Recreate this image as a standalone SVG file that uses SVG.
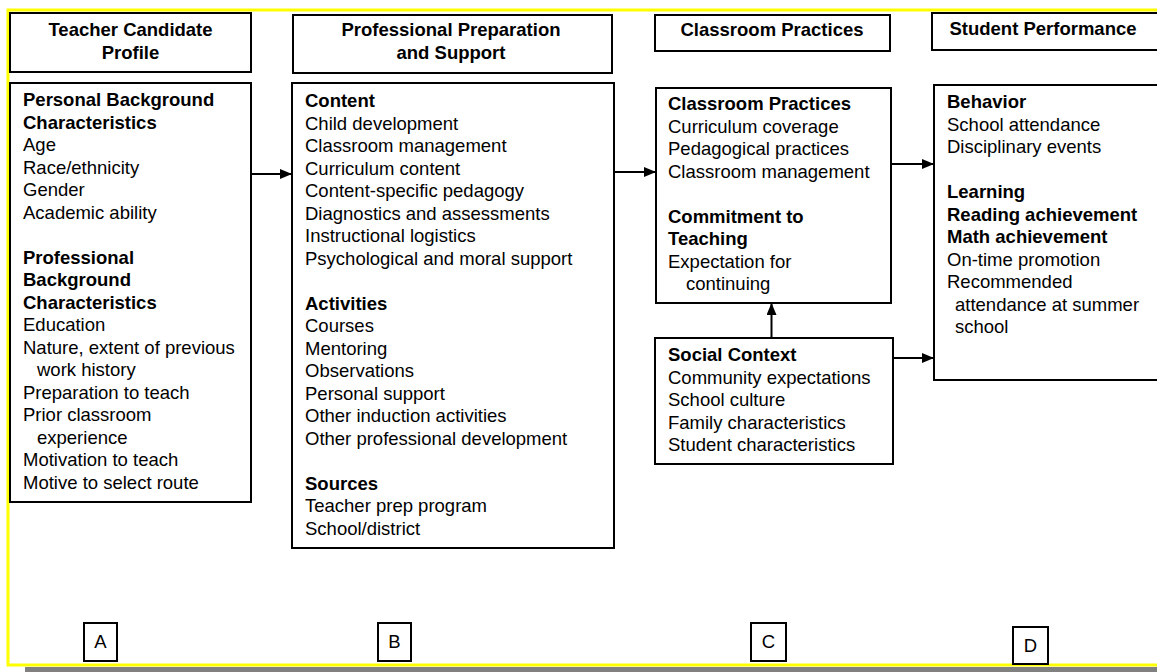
<svg xmlns="http://www.w3.org/2000/svg" width="1157" height="672" viewBox="0 0 1157 672">
  <style>
    .box { fill: #ffffff; stroke: #000000; stroke-width: 2; }
    .t { font-family: "Liberation Sans", Arial, sans-serif; font-size: 18.5px; fill: #000000; }
    .b { font-weight: bold; }
    .hd { font-family: "Liberation Sans", Arial, sans-serif; font-size: 18.5px; font-weight: bold; fill: #000000; text-anchor: middle; }
    .lbl { font-family: "Liberation Sans", Arial, sans-serif; font-size: 18.5px; fill: #000000; text-anchor: middle; }
    .conn { stroke: #000000; stroke-width: 2; fill: none; marker-end: url(#arrow); }
  </style>
  <defs>
    <marker id="arrow" markerUnits="userSpaceOnUse" markerWidth="12" markerHeight="10" refX="12" refY="5" orient="auto">
      <path d="M0,0 L12,5 L0,10 z" fill="#000000"/>
    </marker>
  </defs>

  <rect x="0" y="0" width="1157" height="672" fill="#ffffff"/>
  <!-- page frame -->
  <rect x="25" y="667" width="1132" height="5" fill="#808080"/>
  <path d="M1157,10 H8 V665 H1157" fill="none" stroke="#ffff00" stroke-width="3"/>

  <!-- A: Teacher Candidate Profile -->
  <g id="header-a">
    <rect class="box" x="10" y="13" width="241" height="59"/>
    <text class="hd" x="130.5" y="36">Teacher Candidate</text>
    <text class="hd" x="130.5" y="59">Profile</text>
  </g>
  <g id="profile">
    <rect class="box" x="10" y="83" width="241" height="419"/>
    <text class="t">
      <tspan class="b" x="23" y="106">Personal Background</tspan>
      <tspan class="b" x="23" y="128.5">Characteristics</tspan>
      <tspan x="23" y="151">Age</tspan>
      <tspan x="23" y="173.5">Race/ethnicity</tspan>
      <tspan x="23" y="196">Gender</tspan>
      <tspan x="23" y="218.5">Academic ability</tspan>
      <tspan class="b" x="23" y="263.5">Professional</tspan>
      <tspan class="b" x="23" y="286">Background</tspan>
      <tspan class="b" x="23" y="308.5">Characteristics</tspan>
      <tspan x="23" y="331">Education</tspan>
      <tspan x="23" y="353.5">Nature, extent of previous</tspan>
      <tspan x="37" y="376">work history</tspan>
      <tspan x="23" y="398.5">Preparation to teach</tspan>
      <tspan x="23" y="421">Prior classroom</tspan>
      <tspan x="37" y="443.5">experience</tspan>
      <tspan x="23" y="466">Motivation to teach</tspan>
      <tspan x="23" y="488.5">Motive to select route</tspan>
    </text>
  </g>

  <!-- B: Professional Preparation and Support -->
  <g id="header-b">
    <rect class="box" x="293" y="15" width="319" height="58"/>
    <text class="hd" x="451" y="36">Professional Preparation</text>
    <text class="hd" x="451" y="59">and Support</text>
  </g>
  <g id="preparation">
    <rect class="box" x="292" y="83" width="322" height="465"/>
    <text class="t">
      <tspan class="b" x="305" y="107">Content</tspan>
      <tspan x="305" y="129.5">Child development</tspan>
      <tspan x="305" y="152">Classroom management</tspan>
      <tspan x="305" y="174.5">Curriculum content</tspan>
      <tspan x="305" y="197">Content-specific pedagogy</tspan>
      <tspan x="305" y="219.5">Diagnostics and assessments</tspan>
      <tspan x="305" y="242">Instructional logistics</tspan>
      <tspan x="305" y="264.5">Psychological and moral support</tspan>
      <tspan class="b" x="305" y="309.5">Activities</tspan>
      <tspan x="305" y="332">Courses</tspan>
      <tspan x="305" y="354.5">Mentoring</tspan>
      <tspan x="305" y="377">Observations</tspan>
      <tspan x="305" y="399.5">Personal support</tspan>
      <tspan x="305" y="422">Other induction activities</tspan>
      <tspan x="305" y="444.5">Other professional development</tspan>
      <tspan class="b" x="305" y="489.5">Sources</tspan>
      <tspan x="305" y="512">Teacher prep program</tspan>
      <tspan x="305" y="534.5">School/district</tspan>
    </text>
  </g>

  <!-- C: Classroom Practices -->
  <g id="header-c">
    <rect class="box" x="655" y="15" width="235" height="36"/>
    <text class="hd" x="772" y="36">Classroom Practices</text>
  </g>
  <g id="practices">
    <rect class="box" x="656" y="88" width="235" height="215"/>
    <text class="t">
      <tspan class="b" x="668" y="110">Classroom Practices</tspan>
      <tspan x="668" y="132.5">Curriculum coverage</tspan>
      <tspan x="668" y="155">Pedagogical practices</tspan>
      <tspan x="668" y="177.5">Classroom management</tspan>
      <tspan class="b" x="668" y="222.5">Commitment to</tspan>
      <tspan class="b" x="668" y="245">Teaching</tspan>
      <tspan x="668" y="267.5">Expectation for</tspan>
      <tspan x="686" y="290">continuing</tspan>
    </text>
  </g>
  <g id="social-context">
    <rect class="box" x="655" y="338" width="238" height="126"/>
    <text class="t">
      <tspan class="b" x="668" y="361">Social Context</tspan>
      <tspan x="668" y="383.5">Community expectations</tspan>
      <tspan x="668" y="406">School culture</tspan>
      <tspan x="668" y="428.5">Family characteristics</tspan>
      <tspan x="668" y="451">Student characteristics</tspan>
    </text>
  </g>

  <!-- D: Student Performance -->
  <g id="header-d">
    <rect class="box" x="932" y="13" width="240" height="37"/>
    <text class="hd" x="1043" y="35">Student Performance</text>
  </g>
  <g id="performance">
    <rect class="box" x="934" y="85" width="240" height="295"/>
    <text class="t">
      <tspan class="b" x="947" y="108">Behavior</tspan>
      <tspan x="947" y="130.5">School attendance</tspan>
      <tspan x="947" y="153">Disciplinary events</tspan>
      <tspan class="b" x="947" y="198">Learning</tspan>
      <tspan class="b" x="947" y="220.5">Reading achievement</tspan>
      <tspan class="b" x="947" y="243">Math achievement</tspan>
      <tspan x="947" y="265.5">On-time promotion</tspan>
      <tspan x="947" y="288">Recommended</tspan>
      <tspan x="955" y="310.5">attendance at summer</tspan>
      <tspan x="955" y="333">school</tspan>
    </text>
  </g>

  <!-- column labels -->
  <g id="label-a">
    <rect class="box" x="84" y="623" width="33" height="38"/>
    <text class="lbl" x="100.5" y="648">A</text>
  </g>
  <g id="label-b">
    <rect class="box" x="378" y="623" width="33" height="38"/>
    <text class="lbl" x="394.5" y="648">B</text>
  </g>
  <g id="label-c">
    <rect class="box" x="751" y="623" width="35" height="38"/>
    <text class="lbl" x="768.5" y="648">C</text>
  </g>
  <g id="label-d">
    <rect class="box" x="1013" y="627" width="35" height="37"/>
    <text class="lbl" x="1030.5" y="652">D</text>
  </g>

  <!-- connectors -->
  <g id="connectors">
    <line class="conn" x1="251" y1="174" x2="292" y2="174"/>
    <line class="conn" x1="614" y1="172" x2="656" y2="172"/>
    <line class="conn" x1="891" y1="164" x2="934" y2="164"/>
    <line class="conn" x1="893" y1="358" x2="934" y2="358"/>
    <line class="conn" x1="771.5" y1="338" x2="771.5" y2="303"/>
  </g>
</svg>
